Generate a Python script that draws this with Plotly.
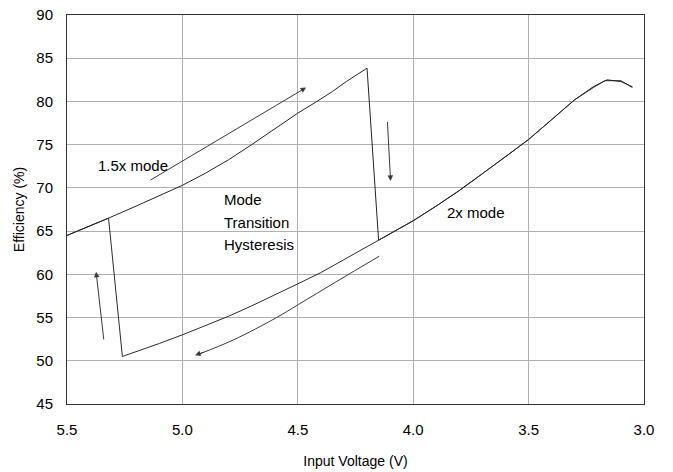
import plotly.graph_objects as go

# 1.5x mode branch (input voltage in V, efficiency in %)
vin_15x = [5.50, 5.40, 5.32, 5.20, 5.10, 5.00, 4.90, 4.80, 4.70, 4.60, 4.50, 4.42, 4.35, 4.29, 4.20]
eff_15x = [64.5, 65.6, 66.5, 67.9, 69.1, 70.3, 71.7, 73.25, 75.0, 76.85, 78.65, 79.95, 81.15, 82.3, 83.85]

# 2x mode branch
vin_2x = [5.26, 5.20, 5.10, 5.00, 4.90, 4.80, 4.70, 4.60, 4.50, 4.40, 4.30, 4.20, 4.15,
          4.00, 3.90, 3.80, 3.70, 3.60, 3.50, 3.40, 3.30, 3.22, 3.16, 3.10, 3.05]
eff_2x = [50.5, 51.05, 52.0, 53.0, 54.05, 55.15, 56.35, 57.6, 58.9, 60.2, 61.65, 63.2, 63.95,
          66.2, 67.9, 69.7, 71.65, 73.6, 75.6, 77.9, 80.2, 81.7, 82.5, 82.3, 81.7]

# Rising sweep near the 2x peak reads slightly differently
vin_2x_rise_peak = [3.05, 3.10, 3.17, 3.22]
eff_2x_rise_peak = [81.6, 82.4, 82.4, 81.6]

# Mode switch points
switch_down_vin, switch_down_eff = 4.15, 63.95   # 1.5x -> 2x while Vin falls
switch_up_vin, switch_up_eff = 5.32, 66.5        # 2x -> 1.5x while Vin rises

x_ticks = [5.5, 5.0, 4.5, 4.0, 3.5, 3.0]
x_tick_text = ["5.5", "5.0", "4.5", "4.0", "3.5", "3.0"]
y_ticks = [45, 50, 55, 60, 65, 70, 75, 80, 85, 90]

# Falling sweep: along 1.5x, drop into 2x, continue down
fall_x = vin_15x + [switch_down_vin] + [v for v in vin_2x if v < switch_down_vin]
fall_y = eff_15x + [switch_down_eff] + [e for v, e in zip(vin_2x, eff_2x) if v < switch_down_vin]

# Rising sweep: along 2x from low Vin, jump back to 1.5x
rise_pairs = [(v, e) for v, e in zip(vin_2x, eff_2x) if v > 3.22]
rise_x = vin_2x_rise_peak + [v for v, _ in reversed(rise_pairs)] + [switch_up_vin] + \
    [v for v in reversed(vin_15x) if v > switch_up_vin]
rise_y = eff_2x_rise_peak + [e for _, e in reversed(rise_pairs)] + [switch_up_eff] + \
    [e for v, e in zip(reversed(vin_15x), reversed(eff_15x)) if v > switch_up_vin]

FONT = "Liberation Sans, Arial, sans-serif"
LINE = "#242424"
ARROW = "#3a3a3a"

fig = go.Figure()
fig.add_trace(go.Scatter(x=rise_x, y=rise_y, mode="lines",
                         line=dict(color="#2c2c2c", width=1), hoverinfo="skip"))
fig.add_trace(go.Scatter(x=fall_x, y=fall_y, mode="lines",
                         line=dict(color=LINE, width=1), hoverinfo="skip"))

# curved arrow following the 2x branch toward higher Vin
fig.add_trace(go.Scatter(x=[4.147, 4.33, 4.498, 4.592, 4.78, 4.93],
                         y=[62.1, 59.2, 56.5, 55.0, 52.4, 50.75],
                         mode="lines", line=dict(color=ARROW, width=1, shape="spline"),
                         hoverinfo="skip"))

def arrow(x0, y0, x1, y1):
    fig.add_annotation(x=x1, y=y1, ax=x0, ay=y0, xref="x", yref="y",
                       axref="x", ayref="y", showarrow=True, arrowhead=2,
                       arrowsize=1.1, arrowwidth=1, arrowcolor=ARROW, text="")

arrow(5.145, 70.8, 4.464, 81.6)
arrow(4.112, 77.8, 4.098, 70.8)
arrow(5.340, 52.3, 5.374, 60.3)
arrow(4.90, 51.05, 4.945, 50.65)

def label(x, y, text):
    fig.add_annotation(x=x, y=y, xref="x", yref="y", text=text, showarrow=False,
                       xanchor="left", yanchor="middle",
                       font=dict(family=FONT, size=15, color="#000"))

label(5.374, 72.6, "1.5x mode")
label(4.830, 68.6, "Mode")
label(4.830, 66.05, "Transition")
label(4.830, 63.5, "Hysteresis")
label(3.862, 67.2, "2x mode")

axis_common = dict(showgrid=True, gridcolor="#b0b0b0", gridwidth=1, zeroline=False,
                   showline=True, linecolor="#333333", linewidth=1, mirror=True,
                   ticks="outside", tickcolor="rgba(0,0,0,0)", automargin=False,
                   tickfont=dict(family=FONT, size=15, color="#000"))

fig.update_xaxes(range=[5.5, 3.0], tickvals=x_ticks, ticktext=x_tick_text, ticklen=12,
                 title=dict(text="Input Voltage (V)", font=dict(family=FONT, size=14, color="#000"),
                            standoff=19),
                 **axis_common)
fig.update_yaxes(range=[45, 90], tickvals=y_ticks, ticklen=10,
                 title=dict(text="Efficiency (%)", font=dict(family=FONT, size=14, color="#000"),
                            standoff=8),
                 **axis_common)

fig.update_layout(width=673, height=472, showlegend=False,
                  margin=dict(l=67, r=29, t=15, b=68),
                  paper_bgcolor="white", plot_bgcolor="white")

fig.write_html("out.html")
